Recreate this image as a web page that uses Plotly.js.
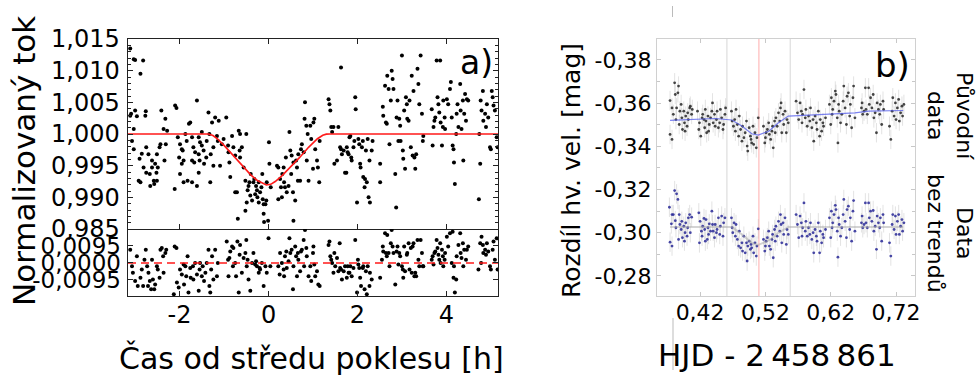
<!DOCTYPE html>
<html>
<head>
<meta charset="utf-8">
<script src="https://cdn.plot.ly/plotly-3.0.1.min.js"></script>
<style>
  html, body { margin: 0; padding: 0; background: #fff; }
  #chart { width: 976px; height: 378px; }
</style>
</head>
<body>
<div id="chart"></div>
<script>
// ---------- Panel a: normalised flux vs. time from mid-transit [h] ----------
const aTime = [
  -3.11,-3.03,-3.00,-2.82,-2.88,-3.09,-3.11,-3.00,-2.76,-2.96,-3.03,-2.77,-3.07,-3.03,-2.90,-2.85,-2.75,-2.70,-2.81,-2.75,
  -2.92,-2.88,-2.67,-2.62,-2.58,-2.66,-2.57,-2.51,-2.62,-2.51,-2.45,-2.43,-2.55,-2.49,-2.52,-2.41,-2.36,-2.32,-2.28,-2.34,-2.31,
  -2.10,-2.07,-2.11,-2.04,-1.99,-1.95,-2.01,-1.93,-1.91,-1.95,-1.99,-1.91,-1.82,-1.72,-1.87,-1.84,-1.79,-1.76,-1.72,-1.69,
  -1.65,-1.72,-1.61,-1.57,-1.54,-1.57,-1.55,-1.50,-1.50,-1.46,-1.45,-1.40,-1.39,-1.35,-1.33,-1.31,-1.30,-1.27,-1.24,-1.24,
  -1.20,-1.16,-1.14,-1.61,-1.57,-1.67,
  -1.12,-1.09,-1.05,-1.01,-0.95,-0.91,-0.90,-0.88,-0.86,-0.82,-0.79,-0.75,-0.75,-0.71,-0.69,-0.67,-0.65,-0.64,-0.64,-0.60,
  -0.56,-0.52,-0.52,-0.50,-0.49,-0.47,-0.45,-0.43,-0.41,-0.40,-0.37,-0.34,-0.32,-0.30,-0.28,-0.26,-0.25,-0.22,-0.22,-0.19,
  -0.16,-0.14,-0.13,-0.11,-0.10,-0.07,-0.05,-0.04,-0.01,0.01,0.02,0.05,-0.11,
  0.19,0.22,0.22,0.26,0.28,0.30,0.31,0.34,0.35,0.37,0.39,0.41,0.45,0.47,0.49,0.51,0.52,0.55,0.56,0.60,0.56,0.62,0.64,0.66,
  0.67,0.71,0.73,0.75,0.79,0.81,0.82,0.85,0.86,0.88,0.90,0.94,0.96,1.00,1.01,1.03,1.05,1.09,1.11,1.14,1.15,
  1.35,1.37,1.39,1.41,1.43,1.46,1.48,1.54,1.57,1.61,1.63,1.65,1.69,1.72,1.75,1.76,1.78,1.80,1.82,1.84,1.86,1.87,1.91,1.93,
  1.95,1.96,1.99,2.02,2.04,2.06,2.07,2.10,2.12,2.13,2.16,2.17,2.19,2.21,2.23,2.25,2.27,2.28,2.32,2.34,1.63,2.51,2.51,
  2.57,2.58,2.62,2.64,2.66,2.67,2.70,2.72,2.75,2.77,2.79,2.81,2.85,2.87,2.88,2.90,2.92,2.94,2.96,2.97,3.00,3.02,3.03,3.05,
  3.07,3.09,3.11,3.12,3.15,3.17,3.20,3.22,3.24,3.26,3.28,3.30,3.32,3.35,3.37,3.39,3.42,3.45,3.47,3.48,
  3.67,3.69,3.71,3.73,3.75,3.78,3.80,3.82,3.84,3.86,3.87,3.90,3.92,3.93,3.96,3.97,4.01,4.04,4.08,4.10,4.12,4.14,4.16,4.17,
  4.19,4.22,4.23,4.25,4.27,4.31,4.32,4.34,4.37,4.38,4.40,4.42,4.44,4.46,4.49,4.76,4.73,4.77,4.79,4.82,4.83,4.87,4.89,4.91,
  4.94,4.98,5.00,5.02,5.04,5.06,5.09,5.13,5.15,4.74
];
const aFlux = [
  1.0135,1.0118,1.0117,1.0116,1.0095,1.0032,1.0029,1.0037,1.0036,1.0028,1.0008,1.0029,0.9989,0.9976,0.9961,0.9969,0.9979,0.9968,0.9947,0.9939,
  0.9926,0.9924,0.9937,0.9947,0.9926,0.9918,0.9921,0.9926,0.9958,0.9968,0.9979,0.9984,0.9953,0.9947,0.9939,1.0037,1.0008,1.0024,1.0005,0.9958,0.9984,
  1.0045,1.0041,0.9913,0.9995,0.9984,0.9976,0.9963,0.9974,0.9958,0.9953,0.9937,0.9924,0.9926,0.9924,1.0000,0.9989,1.0016,1.0018,0.9995,0.9979,
  0.9971,0.9958,1.0053,0.9995,0.9987,0.9968,0.9958,1.0003,0.9982,0.9974,0.9953,0.9963,0.9989,1.0034,1.0000,0.9924,0.9968,1.0018,0.9979,0.9950,
  1.0026,0.9997,0.9989,0.9918,0.9939,0.9955,
  1.0021,0.9950,0.9984,0.9992,1.0026,0.9982,0.9971,0.9955,0.9932,0.9997,0.9979,0.9966,0.9908,0.9908,0.9866,1.0005,0.9974,1.0000,0.9963,0.9979,
  0.9947,0.9926,0.9879,1.0000,0.9892,0.9911,0.9918,0.9924,0.9903,0.9937,0.9895,0.9924,0.9929,0.9905,0.9918,0.9911,0.9900,0.9924,0.9892,0.9908,
  0.9916,0.9937,0.9897,0.9874,0.9861,0.9889,0.9895,0.9924,0.9863,0.9987,0.9953,0.9916,0.9889,
  0.9950,0.9947,0.9897,0.9929,0.9916,0.9900,0.9937,0.9947,0.9924,0.9916,0.9963,0.9908,0.9918,1.0003,0.9974,0.9937,0.9966,0.9908,0.9863,0.9895,0.9955,0.9958,0.9947,0.9926,
  0.9968,0.9926,0.9976,0.9984,0.9971,1.0024,1.0050,1.0013,0.9958,1.0000,0.9926,1.0013,0.9992,0.9945,1.0018,1.0024,0.9976,0.9958,0.9947,0.9924,0.9989,
  1.0055,1.0047,1.0037,1.0011,1.0003,1.0011,0.9953,0.9958,1.0011,0.9979,0.9976,0.9968,0.9974,0.9939,0.9939,0.9979,0.9971,0.9968,0.9995,0.9997,0.9963,0.9958,0.9979,0.9989,
  1.0058,1.0039,0.9892,0.9992,0.9984,0.9953,0.9947,0.9979,0.9989,0.9932,0.9916,0.9929,0.9974,0.9924,0.9992,0.9900,0.9958,0.9892,0.9974,0.9989,1.0105,0.9924,0.9953,
  1.0043,1.0029,1.0076,1.0018,1.0016,1.0092,1.0071,0.9984,1.0053,1.0100,1.0087,1.0071,0.9937,0.9884,1.0026,1.0053,0.9989,1.0024,1.0013,0.9989,1.0124,0.9974,0.9961,1.0037,
  0.9945,1.0058,1.0047,1.0024,1.0021,1.0053,0.9979,1.0092,0.9966,1.0068,0.9963,0.9945,0.9968,1.0103,1.0079,1.0047,1.0124,1.0032,0.9989,0.9997,
  1.0039,0.9982,1.0011,1.0021,1.0026,1.0116,1.0058,1.0047,1.0034,1.0116,1.0018,0.9982,1.0011,1.0053,1.0026,1.0008,1.0055,1.0047,1.0071,1.0082,1.0026,0.9982,0.9976,0.9955,
  0.9921,1.0000,1.0032,1.0047,1.0011,1.0079,1.0037,1.0008,1.0053,0.9958,1.0032,1.0063,1.0021,1.0055,1.0053,0.9953,0.9897,1.0053,1.0037,1.0068,1.0021,1.0032,1.0011,1.0047,
  1.0026,0.9979,0.9976,1.0068,1.0058,1.0045,1.0037,0.9995,0.9979,1.0000
];

// Fitted transit model (red curve)
const modelTime = [-3.16,-1.35,-1.25,-1.15,-1.0,-0.8,-0.6,-0.4,-0.25,-0.12,-0.05,0.05,0.15,0.3,0.5,0.7,0.9,1.1,1.22,1.3,1.38,5.16];
const modelFlux = [1.0,1.0,0.99975,0.99925,0.9982,0.9966,0.9950,0.99355,0.99265,0.99215,0.99195,0.99205,0.9925,0.9934,0.9948,0.9963,0.9979,0.99925,0.9998,0.99998,1.0,1.0];

// Residuals (lower strip)
const resTime = [
  -3.11,-3.07,-3.05,-3.00,-2.96,-2.94,-2.88,-2.85,-2.82,-2.79,-2.76,-2.73,-2.71,-2.70,-2.67,-2.64,-2.62,-2.60,-2.57,-2.55,-2.51,-2.49,-2.45,-2.43,-2.40,-2.37,-2.36,-2.32,-2.30,
  -2.13,-2.11,-2.07,-2.06,-2.02,-1.99,-1.95,-1.91,-1.90,-1.87,-1.85,-1.82,-1.80,-1.76,-1.75,-1.70,-1.69,-1.65,-1.61,-1.57,-1.55,-1.54,-1.50,-1.48,-1.45,-1.42,-1.39,-1.35,-1.33,-1.31,-1.29,-1.27,-1.24,-1.20,-1.16,-1.14,
  -0.94,-0.91,-0.90,-0.88,-0.86,-0.82,-0.80,-0.79,-0.75,-0.73,-0.70,-0.67,-0.65,-0.64,-0.60,-0.56,-0.52,-0.50,-0.49,-0.47,-0.45,-0.41,-0.37,-0.34,-0.30,-0.28,-0.26,-0.22,-0.20,-0.19,-0.15,-0.11,-0.07,-0.04,0.00,0.04,
  0.22,0.25,0.26,0.30,0.34,0.35,0.37,0.40,0.41,0.45,0.47,0.49,0.52,0.55,0.56,0.60,0.62,0.64,0.66,0.67,0.71,0.73,0.75,0.79,0.80,0.82,0.85,0.86,0.90,0.94,0.96,1.00,1.01,1.03,1.05,1.09,1.12,1.15,
  1.35,1.37,1.39,1.41,1.43,1.46,1.48,1.50,1.54,1.57,1.60,1.61,1.63,1.65,1.69,1.72,1.76,1.78,1.80,1.82,1.84,1.87,1.91,1.95,1.99,2.01,2.02,2.04,2.06,2.08,2.12,2.13,2.16,2.19,2.21,2.23,2.27,2.28,2.32,2.51,2.55,2.57,2.58,
  2.62,2.64,2.66,2.67,2.70,2.72,2.75,2.77,2.79,2.81,2.85,2.88,2.90,2.92,2.94,2.96,3.00,3.02,3.03,3.05,3.07,3.11,3.12,3.15,3.17,3.20,3.22,3.24,3.26,3.28,3.30,3.32,3.35,3.37,3.39,3.42,3.45,3.47,3.48,
  3.67,3.69,3.71,3.73,3.75,3.78,3.80,3.82,3.84,3.86,3.87,3.90,3.92,3.93,3.96,3.97,4.01,4.04,4.08,4.12,4.14,4.16,4.17,4.19,4.22,4.23,4.27,4.31,4.32,4.34,4.37,4.38,4.40,4.44,4.46,4.49,
  4.72,4.76,4.78,4.79,4.82,4.83,4.87,4.89,4.91,4.94,4.98,5.00,5.04,5.06,5.09,5.13,5.15
];
const resFlux = [
  0.0074,-0.0018,-0.0055,-0.0101,0.0037,-0.0129,-0.0083,-0.0037,-0.0129,0.0018,0.0074,-0.0018,-0.0129,-0.0055,-0.0101,-0.0147,0.0018,-0.0092,-0.0147,-0.0120,-0.0018,-0.0037,-0.0083,0.0074,0.0083,0.0037,-0.0055,0.0055,0.0074,
  -0.0175,0.0092,0.0083,-0.0110,-0.0138,-0.0037,-0.0064,-0.0009,-0.0120,-0.0018,-0.0074,0.0037,-0.0166,-0.0028,-0.0083,-0.0018,-0.0092,0.0000,-0.0064,-0.0156,-0.0037,0.0000,-0.0074,-0.0018,-0.0101,-0.0055,0.0000,0.0074,-0.0129,-0.0166,-0.0037,0.0037,-0.0092,0.0074,-0.0074,0.0000,
  0.0120,0.0018,-0.0074,0.0028,0.0064,0.0092,-0.0018,0.0083,0.0000,-0.0074,0.0120,-0.0166,0.0046,0.0101,-0.0055,0.0028,0.0055,0.0129,-0.0018,0.0018,-0.0092,-0.0156,0.0000,0.0055,-0.0009,0.0009,-0.0018,-0.0055,-0.0028,-0.0037,0.0000,-0.0129,-0.0018,-0.0055,0.0138,-0.0018,
  -0.0018,-0.0064,0.0055,0.0000,-0.0037,-0.0074,0.0037,0.0064,-0.0028,0.0009,0.0138,0.0055,0.0074,-0.0147,-0.0018,0.0092,0.0037,-0.0074,0.0055,0.0018,-0.0046,0.0064,0.0074,0.0129,-0.0018,0.0184,0.0083,0.0037,-0.0074,-0.0018,-0.0101,0.0055,0.0092,-0.0009,-0.0074,-0.0046,-0.0120,-0.0129,
  0.0101,0.0120,0.0037,0.0018,0.0000,-0.0055,0.0055,-0.0018,0.0028,-0.0046,0.0110,-0.0028,-0.0037,-0.0092,-0.0046,-0.0018,-0.0083,-0.0018,-0.0055,-0.0055,-0.0018,-0.0074,-0.0028,0.0129,-0.0166,0.0018,-0.0009,-0.0028,-0.0083,-0.0129,-0.0028,-0.0018,-0.0147,-0.0046,-0.0175,-0.0018,-0.0129,-0.0055,-0.0092,-0.0083,0.0018,0.0092,0.0064,
  0.0166,0.0055,0.0037,0.0156,0.0055,-0.0018,0.0110,0.0184,0.0092,0.0055,-0.0120,0.0064,0.0092,-0.0009,0.0055,0.0037,-0.0018,-0.0037,-0.0083,0.0092,-0.0046,0.0046,0.0055,0.0110,-0.0037,0.0083,-0.0055,0.0092,0.0110,-0.0074,-0.0055,-0.0074,0.0129,0.0018,-0.0018,0.0129,0.0055,-0.0018,-0.0018,
  0.0018,0.0037,-0.0009,0.0055,0.0064,0.0129,0.0083,0.0046,0.0018,0.0110,0.0000,0.0074,0.0037,-0.0018,0.0018,0.0055,0.0147,0.0092,0.0166,0.0000,0.0175,-0.0083,-0.0018,-0.0166,-0.0092,0.0037,0.0101,0.0166,0.0055,0.0028,0.0110,-0.0018,0.0074,0.0018,0.0074,0.0092,
  -0.0037,0.0110,0.0000,0.0147,0.0101,0.0055,0.0074,0.0046,0.0110,0.0064,-0.0018,-0.0037,0.0074,0.0120,0.0018,0.0138,-0.0037
];

// ---------- Panel b: differential magnitude vs. HJD - 2458861 ----------
const bTime = [
  0.374,0.374,0.377,0.377,0.379,0.381,0.382,0.383,0.384,0.386,0.387,0.388,0.389,0.391,0.392,0.393,0.395,0.396,0.397,0.398,0.400,0.401,0.402,0.404,0.405,0.407,0.408,
  0.416,0.418,0.419,0.421,0.423,0.424,0.426,0.427,0.428,0.429,0.430,0.432,0.433,0.434,0.436,0.438,0.439,0.440,0.442,0.443,0.445,0.446,0.448,0.450,0.451,0.453,0.455,0.456,0.458,0.459,
  0.468,0.469,0.471,0.473,0.474,0.475,0.477,0.479,0.480,0.482,0.484,0.485,0.487,0.489,0.491,0.492,0.493,0.495,0.497,0.498,0.499,0.501,0.502,0.504,0.506,0.507,0.509,
  0.517,0.519,0.520,0.521,0.523,0.525,0.526,0.528,0.530,0.531,0.532,0.534,0.535,0.536,0.538,0.540,0.542,0.543,0.544,0.545,0.547,0.548,0.550,0.552,0.553,0.555,
  0.567,0.569,0.571,0.573,0.575,0.576,0.577,0.579,0.581,0.582,0.584,0.586,0.588,0.589,0.591,0.593,0.594,0.596,0.598,0.599,0.601,0.603,0.604,0.606,0.608,0.609,0.612,
  0.618,0.620,0.621,0.622,0.623,0.625,0.627,0.628,0.630,0.631,0.632,0.633,0.635,0.637,0.639,0.640,0.642,0.644,0.645,0.647,0.649,0.650,0.652,0.654,0.655,0.657,
  0.667,0.668,0.669,0.671,0.673,0.674,0.676,0.678,0.679,0.681,0.683,0.685,0.686,0.688,0.690,0.691,0.693,0.695,0.696,0.698,0.700,0.701,
  0.710,0.712,0.714,0.715,0.717,0.719,0.720,0.722,0.724,0.725,0.727,0.729,0.730,0.732
];
const bRaw = [
  -0.3612,-0.3455,-0.3432,-0.3578,-0.3548,-0.3694,-0.3640,-0.3524,-0.3578,-0.3648,-0.3679,-0.3501,-0.3563,-0.3594,-0.3532,-0.3478,-0.3563,-0.3509,-0.3470,-0.3540,-0.3493,-0.3555,-0.3524,-0.3578,-0.3586,-0.3548,-0.3571,
  -0.3563,-0.3478,-0.3509,-0.3447,-0.3532,-0.3548,-0.3524,-0.3486,-0.3571,-0.3517,-0.3463,-0.3540,-0.3470,-0.3501,-0.3532,-0.3563,-0.3601,-0.3509,-0.3548,-0.3493,-0.3524,-0.3563,-0.3486,-0.3509,-0.3571,-0.3532,-0.3478,-0.3501,-0.3548,-0.3578,
  -0.3563,-0.3517,-0.3493,-0.3524,-0.3470,-0.3571,-0.3501,-0.3447,-0.3540,-0.3478,-0.3424,-0.3493,-0.3440,-0.3463,-0.3517,-0.3401,-0.3378,-0.3486,-0.3447,-0.3432,-0.3416,-0.3493,-0.3409,-0.3463,-0.3393,-0.3440,-0.3532,
  -0.3493,-0.3416,-0.3440,-0.3463,-0.3478,-0.3509,-0.3455,-0.3432,-0.3470,-0.3493,-0.3393,-0.3517,-0.3463,-0.3532,-0.3493,-0.3555,-0.3517,-0.3578,-0.3601,-0.3463,-0.3548,-0.3501,-0.3563,-0.3463,-0.3524,-0.3509,
  -0.3609,-0.3555,-0.3524,-0.3601,-0.3563,-0.3509,-0.3548,-0.3663,-0.3532,-0.3571,-0.3493,-0.3540,-0.3517,-0.3578,-0.3486,-0.3524,-0.3424,-0.3540,-0.3509,-0.3478,-0.3563,-0.3447,-0.3524,-0.3470,-0.3509,-0.3493,-0.3532,
  -0.3594,-0.3501,-0.3625,-0.3548,-0.3571,-0.3609,-0.3656,-0.3640,-0.3532,-0.3416,-0.3594,-0.3563,-0.3509,-0.3548,-0.3609,-0.3679,-0.3578,-0.3501,-0.3632,-0.3648,-0.3540,-0.3594,-0.3486,-0.3625,-0.3679,-0.3532,
  -0.3578,-0.3601,-0.3548,-0.3563,-0.3671,-0.3571,-0.3548,-0.3671,-0.3594,-0.3625,-0.3578,-0.3640,-0.3532,-0.3555,-0.3463,-0.3601,-0.3571,-0.3548,-0.3594,-0.3501,-0.3609,-0.3571,
  -0.3493,-0.3432,-0.3563,-0.3625,-0.3540,-0.3601,-0.3524,-0.3578,-0.3617,-0.3517,-0.3555,-0.3586,-0.3540,-0.3594
];

const bTimeDet = [
  0.373,0.374,0.376,0.377,0.377,0.379,0.381,0.382,0.383,0.384,0.386,0.387,0.388,0.389,0.391,0.392,0.393,0.395,0.396,0.397,0.398,0.400,0.401,0.402,0.404,0.405,0.407,
  0.418,0.419,0.420,0.422,0.423,0.424,0.426,0.427,0.428,0.429,0.431,0.432,0.433,0.434,0.436,0.438,0.439,0.440,0.442,0.443,0.445,0.446,0.448,0.450,0.451,0.453,0.455,0.456,0.458,
  0.468,0.469,0.470,0.472,0.474,0.475,0.477,0.479,0.480,0.482,0.484,0.485,0.487,0.489,0.491,0.492,0.493,0.495,0.497,0.498,0.499,0.501,0.502,0.504,0.506,0.507,0.509,
  0.517,0.519,0.520,0.521,0.523,0.525,0.526,0.528,0.530,0.531,0.532,0.534,0.535,0.536,0.538,0.540,0.542,0.543,0.544,0.545,0.547,0.548,0.550,0.552,0.553,0.555,
  0.567,0.569,0.571,0.573,0.575,0.576,0.577,0.579,0.581,0.582,0.584,0.586,0.588,0.589,0.591,0.593,0.594,0.596,0.598,0.599,0.601,0.603,0.604,0.606,0.608,0.609,0.612,
  0.618,0.620,0.621,0.622,0.623,0.625,0.627,0.628,0.630,0.631,0.632,0.633,0.635,0.637,0.639,0.640,0.642,0.644,0.645,0.647,0.649,0.650,0.652,0.654,0.655,0.657,
  0.667,0.668,0.669,0.671,0.673,0.674,0.676,0.678,0.679,0.681,0.683,0.685,0.686,0.688,0.690,0.691,0.693,0.695,0.696,0.698,0.700,0.701,
  0.710,0.712,0.714,0.715,0.717,0.719,0.720,0.722,0.724,0.725,0.727,0.729,0.730,0.732
];
const bDetrended = [
  -0.3118,-0.2956,-0.3041,-0.3084,-0.2938,-0.3084,-0.3195,-0.3056,-0.3023,-0.3180,-0.3154,-0.2969,-0.3084,-0.3038,-0.3015,-0.3053,-0.2977,-0.3030,-0.2961,-0.3000,-0.3046,-0.2984,-0.3023,-0.3069,-0.3084,-0.3000,-0.3072,
  -0.3092,-0.2953,-0.3053,-0.3007,-0.2984,-0.3030,-0.3066,-0.3015,-0.2961,-0.3061,-0.2969,-0.3023,-0.2992,-0.3041,-0.3007,-0.3100,-0.3038,-0.3007,-0.2977,-0.3038,-0.3000,-0.3015,-0.3069,-0.2992,-0.3030,-0.3077,-0.2984,-0.3046,-0.3069,
  -0.3069,-0.3023,-0.3000,-0.3046,-0.2984,-0.3038,-0.2969,-0.2938,-0.3007,-0.2930,-0.2953,-0.2915,-0.2984,-0.2907,-0.2953,-0.2869,-0.2938,-0.2961,-0.2923,-0.2946,-0.2930,-0.2984,-0.2907,-0.2953,-0.2892,-0.2938,-0.3018,
  -0.2969,-0.2915,-0.2938,-0.2961,-0.2977,-0.3007,-0.2938,-0.2923,-0.2969,-0.2992,-0.2884,-0.3015,-0.2961,-0.3030,-0.2984,-0.3053,-0.3007,-0.3084,-0.3038,-0.2953,-0.3046,-0.2992,-0.3069,-0.2946,-0.3015,-0.2992,
  -0.3084,-0.3038,-0.2977,-0.3077,-0.3046,-0.2984,-0.3023,-0.3138,-0.3007,-0.3053,-0.2984,-0.3023,-0.2992,-0.3046,-0.2969,-0.3000,-0.2907,-0.3015,-0.2984,-0.2961,-0.3046,-0.2907,-0.3007,-0.2953,-0.2992,-0.2977,-0.3015,
  -0.3069,-0.2977,-0.3100,-0.3023,-0.3046,-0.3084,-0.3127,-0.3107,-0.3007,-0.2887,-0.3069,-0.3038,-0.2984,-0.3023,-0.3084,-0.3154,-0.3053,-0.2977,-0.3107,-0.3123,-0.3015,-0.3069,-0.2961,-0.3100,-0.3149,-0.3007,
  -0.3046,-0.3077,-0.3023,-0.3038,-0.3138,-0.3046,-0.3023,-0.3138,-0.3069,-0.3100,-0.3053,-0.3103,-0.3007,-0.3030,-0.2923,-0.3077,-0.3046,-0.3023,-0.3069,-0.2961,-0.3084,-0.3046,
  -0.2953,-0.2892,-0.3038,-0.3084,-0.3015,-0.3077,-0.2992,-0.3053,-0.3084,-0.2992,-0.3030,-0.3061,-0.3007,-0.3046
];
const bErr = 0.0045;

// Trend + transit fit for the original data (blue) and the transit fit after detrending (grey)
const bModelTime = [0.374,0.402,0.428,0.443,0.4685,0.484,0.499,0.509,0.525,0.540,0.555,0.581,0.616,0.657,0.678,0.703,0.731];
const bModelRaw  = [-0.3520,-0.3524,-0.3527,-0.3529,-0.3522,-0.3494,-0.3458,-0.3452,-0.3470,-0.3509,-0.3540,-0.3544,-0.3551,-0.3555,-0.3563,-0.3566,-0.3566];
const bTrendTime = [0.374,0.469,0.484,0.499,0.509,0.525,0.540,0.555,0.731];
const bTrendDet  = [-0.3026,-0.3026,-0.2992,-0.2953,-0.2943,-0.2964,-0.3000,-0.3026,-0.3026];

// Ingress, mid-transit and egress times marked in panel b
const eventTimes = [0.461, 0.510, 0.558];
const eventColors = ['rgba(190,190,190,0.5)', 'rgba(255,120,120,0.5)', 'rgba(190,190,190,0.5)'];

// Tick labels (decimal comma)
const aFluxTicks = [0.985, 0.990, 0.995, 1.000, 1.005, 1.010, 1.015];
const aFluxLabels = ['0,985', '0,990', '0,995', '1,000', '1,005', '1,010', '1,015'];
const aResTicks = [-0.0095, 0, 0.0095];
const aResLabels = ['-0,0095', '0,0000', '0,0095'];
const aTimeTicks = [-2, 0, 2, 4];
const aTimeLabels = ['-2', '0', '2', '4'];
const bMagTicks = [-0.38, -0.36, -0.34, -0.32, -0.30, -0.28];
const bMagLabels = ['-0,38', '-0,36', '-0,34', '-0,32', '-0,30', '-0,28'];
const bTimeTicks = [0.42, 0.52, 0.62, 0.72];
const bTimeLabels = ['0,42', '0,52', '0,62', '0,72'];

// ---------- layout helpers ----------
const W = 976, H = 378;
const px = v => v / W;
const py = v => 1 - v / H;
const FONT = 'DejaVu Sans, Liberation Sans, sans-serif';

const aMainY = [py(229), py(39)];
const aResY = [py(296), py(229)];
const aX = [px(128), px(498)];
const aRange = [-3.16, 5.16];
const bX = [px(657), px(915)];
const bY = [py(296), py(39)];

const frameA = {
  showline: true, linecolor: '#222', linewidth: 1.4, mirror: 'allticks',
  ticks: 'inside', tickcolor: '#222', ticklen: 5, tickwidth: 1,
  showgrid: false, zeroline: false, fixedrange: true
};
const frameB = {
  showline: true, linecolor: '#d0d0d0', linewidth: 1.2, mirror: 'allticks',
  ticks: 'inside', tickcolor: '#c8c8c8', ticklen: 4, tickwidth: 1,
  showgrid: false, zeroline: false, fixedrange: true
};

const traces = [
  { x: aTime, y: aFlux, xaxis: 'x', yaxis: 'y', type: 'scatter', mode: 'markers',
    marker: { color: '#000', size: 4 }, hoverinfo: 'skip' },
  { x: modelTime, y: modelFlux, xaxis: 'x', yaxis: 'y', type: 'scatter', mode: 'lines',
    line: { color: '#ff1a1a', width: 1.6 }, hoverinfo: 'skip' },
  { x: resTime, y: resFlux, xaxis: 'x2', yaxis: 'y2', type: 'scatter', mode: 'markers',
    marker: { color: '#000', size: 4 }, hoverinfo: 'skip' },
  { x: aRange, y: [0, 0], xaxis: 'x2', yaxis: 'y2', type: 'scatter', mode: 'lines',
    line: { color: '#ff1a1a', width: 1.5, dash: '8px,5px' }, hoverinfo: 'skip' },

  { x: bTime, y: bRaw, xaxis: 'x3', yaxis: 'y3', type: 'scatter', mode: 'markers',
    marker: { color: 'rgba(25,25,25,0.8)', size: 2.8 },
    error_y: { type: 'constant', value: bErr, color: 'rgba(175,175,175,0.35)', thickness: 1, width: 0 },
    hoverinfo: 'skip' },
  { x: bModelTime, y: bModelRaw, xaxis: 'x3', yaxis: 'y3', type: 'scatter', mode: 'lines',
    line: { color: 'rgba(80,90,235,0.75)', width: 1.2 }, hoverinfo: 'skip' },
  { x: bTimeDet, y: bDetrended, xaxis: 'x3', yaxis: 'y3', type: 'scatter', mode: 'markers',
    marker: { color: 'rgba(40,40,150,0.85)', size: 2.8 },
    error_y: { type: 'constant', value: bErr, color: 'rgba(175,175,175,0.35)', thickness: 1, width: 0 },
    hoverinfo: 'skip' },
  { x: bTrendTime, y: bTrendDet, xaxis: 'x3', yaxis: 'y3', type: 'scatter', mode: 'lines',
    line: { color: 'rgba(160,160,160,0.45)', width: 2 }, hoverinfo: 'skip' }
];

const shapes = eventTimes.map((t, i) => ({
  type: 'line', xref: 'x3', yref: 'paper', x0: t, x1: t, y0: bY[0], y1: bY[1],
  line: { color: eventColors[i], width: 1.2 }, layer: 'below'
}));
// thin grey guide strokes above and below panel b
shapes.push({ type: 'line', xref: 'paper', yref: 'paper', x0: px(672.5), x1: px(672.5), y0: py(6), y1: py(17),
  line: { color: '#bbb', width: 1 } });
shapes.push({ type: 'line', xref: 'paper', yref: 'paper', x0: px(673), x1: px(673), y0: py(318), y1: py(370),
  line: { color: '#bbb', width: 1 } });

const ann = (text, x, y, size, extra) => Object.assign({
  text, xref: 'paper', yref: 'paper', x: px(x), y: py(y), showarrow: false,
  xanchor: 'center', yanchor: 'middle', font: { family: FONT, size, color: '#000' }
}, extra || {});

const annotations = [
  ann('a)', 476, 63, 33),
  ann('b)', 892, 65, 34),
  ann('Normalizovaný tok', 24, 161, 31, { textangle: -90 }),
  ann('Čas od středu poklesu [h]', 311, 358, 30),
  ann('Rozdíl hv. vel. [mag]', 572, 171, 25, { textangle: -90 }),
  ann('HJD - 2\u2009458\u2009861', 777, 355, 31),
  ann('Původní<br>data', 950, 116, 22, { textangle: 90 }),
  ann('Data<br>bez trendů', 950, 233, 22, { textangle: 90 })
];

const layout = {
  width: W, height: H,
  margin: { l: 0, r: 0, t: 0, b: 0 },
  paper_bgcolor: '#fff', plot_bgcolor: '#fff',
  showlegend: false,
  font: { family: FONT, color: '#000' },
  xaxis: Object.assign({}, frameA, {
    domain: aX, anchor: 'y', range: aRange,
    tickvals: aTimeTicks, showticklabels: false
  }),
  yaxis: Object.assign({}, frameA, {
    domain: aMainY, anchor: 'x', range: [0.985, 1.015],
    tickvals: aFluxTicks, ticktext: aFluxLabels,
    tickfont: { family: FONT, size: 24, color: '#000' }, ticklabelstandoff: 2,
    minor: { ticks: 'inside', ticklen: 3, tickcolor: '#222', dtick: 0.001, tick0: 0.985 }
  }),
  xaxis2: Object.assign({}, frameA, {
    domain: aX, anchor: 'y2', range: aRange, mirror: false,
    tickvals: aTimeTicks, ticktext: aTimeLabels,
    tickfont: { family: FONT, size: 24, color: '#000' }, ticklabelstandoff: -3
  }),
  yaxis2: Object.assign({}, frameA, {
    domain: aResY, anchor: 'x2', range: [-0.0185, 0.019],
    tickvals: aResTicks, ticktext: aResLabels,
    tickfont: { family: FONT, size: 23, color: '#000' }, ticklabelstandoff: 1
  }),
  xaxis3: Object.assign({}, frameB, {
    domain: bX, anchor: 'y3', range: [0.354, 0.749],
    tickvals: bTimeTicks, ticktext: bTimeLabels,
    tickfont: { family: FONT, size: 22, color: '#000' }, ticklabelstandoff: -4
  }),
  yaxis3: Object.assign({}, frameB, {
    domain: bY, anchor: 'x3', range: [-0.2707, -0.3897],
    tickvals: bMagTicks, ticktext: bMagLabels,
    tickfont: { family: FONT, size: 22, color: '#000' }, ticklabelstandoff: 0,
    minor: { ticks: 'inside', ticklen: 3, tickcolor: '#c8c8c8', dtick: 0.01, tick0: -0.39 }
  }),
  shapes, annotations
};

Plotly.newPlot('chart', traces, layout, { staticPlot: true, displayModeBar: false });
</script>
</body>
</html>
